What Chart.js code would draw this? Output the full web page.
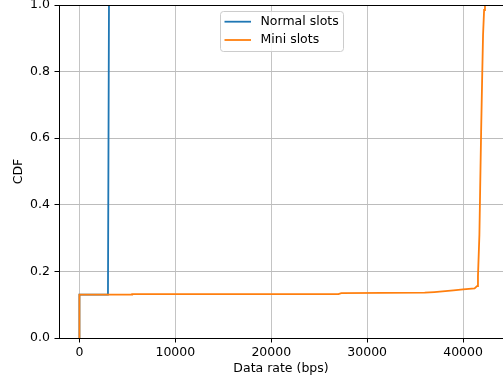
<!DOCTYPE html>
<html>
<head>
<meta charset="utf-8">
<script src="https://cdn.jsdelivr.net/npm/chart.js@4"></script>
<style>
html,body{margin:0;padding:0;background:#fff;overflow:hidden;}
canvas{display:block;}
</style>
</head>
<body>
<canvas id="c" width="503" height="383" style="width:503px;height:383px"></canvas>
<script>
// ---- data ----
const seriesNames = ["Normal slots", "Mini slots"];
const normalX = [0, 0, 2975, 3080];
const normalY = [0, 0.13, 0.13, 1.0];
const miniX = [0, 0, 5500, 5500, 27000, 27300, 36000, 37000, 39000, 40000, 41200, 41450, 41550, 41700, 41780, 41880, 41980, 42080, 42190, 42280];
const miniY = [0, 0.13, 0.13, 0.132, 0.132, 0.135, 0.136, 0.138, 0.143, 0.146, 0.149, 0.156, 0.185, 0.31, 0.45, 0.62, 0.77, 0.91, 0.985, 1.0];
const xTicks = [0, 10000, 20000, 30000, 40000];
const yTicks = [0, 0.2, 0.4, 0.6, 0.8, 1.0];
const colors = ["#1f77b4", "#ff7f0e"];

const toPts = (xs, ys) => xs.map((x, i) => ({x: x, y: ys[i]}));
const FONT = "'DejaVu Sans', sans-serif";
const FS = 12.5;

const frame = {
  id: 'frame',
  afterDraw(chart) {
    const ctx = chart.ctx, a = chart.chartArea;
    ctx.save();
    ctx.strokeStyle = '#000';
    ctx.lineWidth = 1;
    ctx.beginPath();
    ctx.moveTo(a.left, Math.round(a.top) + 0.5);
    ctx.lineTo(a.right, Math.round(a.top) + 0.5);
    ctx.stroke();
    // legend
    const bx = 220.5, by = 11.5, bw = 123, bh = 40, r = 3;
    ctx.fillStyle = 'rgba(255,255,255,0.85)';
    ctx.strokeStyle = '#cccccc';
    ctx.beginPath();
    ctx.moveTo(bx + r, by);
    ctx.lineTo(bx + bw - r, by);
    ctx.arcTo(bx + bw, by, bx + bw, by + r, r);
    ctx.lineTo(bx + bw, by + bh - r);
    ctx.arcTo(bx + bw, by + bh, bx + bw - r, by + bh, r);
    ctx.lineTo(bx + r, by + bh);
    ctx.arcTo(bx, by + bh, bx, by + bh - r, r);
    ctx.lineTo(bx, by + r);
    ctx.arcTo(bx, by, bx + r, by, r);
    ctx.closePath();
    ctx.fill();
    ctx.stroke();
    chart.data.datasets.forEach((ds, i) => {
      const yy = 21.7 + i * 18.3;
      ctx.strokeStyle = ds.borderColor;
      ctx.lineWidth = 1.8;
      ctx.beginPath();
      ctx.moveTo(224.5, yy);
      ctx.lineTo(251, yy);
      ctx.stroke();
      ctx.fillStyle = '#000';
      ctx.font = FS + 'px ' + FONT;
      ctx.textBaseline = 'middle';
      ctx.textAlign = 'left';
      ctx.fillText(ds.label, 260.5, yy);
    });
    ctx.restore();
  }
};

new Chart(document.getElementById('c'), {
  type: 'line',
  data: {
    datasets: [
      {label: seriesNames[0], data: toPts(normalX, normalY), borderColor: colors[0], backgroundColor: colors[0], order: 2},
      {label: seriesNames[1], data: toPts(miniX, miniY), borderColor: colors[1], backgroundColor: colors[1], order: 1}
    ]
  },
  options: {
    responsive: false,
    animation: false,
    devicePixelRatio: 1,
    layout: {padding: {left: 0, right: 0, top: 5, bottom: 0}},
    elements: {
      point: {radius: 0, hoverRadius: 0},
      line: {borderWidth: 1.8, tension: 0, fill: false, borderJoinStyle: 'miter'}
    },
    plugins: {legend: {display: false}, tooltip: {enabled: false}},
    scales: {
      x: {
        type: 'linear',
        min: -2130,
        max: 44160,
        afterBuildTicks: s => { s.ticks = xTicks.map(v => ({value: v})); },
        afterFit: s => { s.height = 45; s.paddingLeft = 0; s.paddingRight = 0; },
        ticks: {
          color: '#000', padding: 3, maxRotation: 0, autoSkip: false,
          font: {family: FONT, size: FS},
          callback: v => String(v)
        },
        grid: {color: '#c4c4c4', lineWidth: 1, tickLength: 4.5, tickColor: '#000', tickWidth: 1},
        border: {color: '#000', width: 1},
        title: {display: true, text: 'Data rate (bps)', color: '#000', font: {family: FONT, size: FS}, padding: {top: 0, bottom: 6.5}}
      },
      y: {
        type: 'linear',
        min: 0,
        max: 1,
        afterBuildTicks: s => { s.ticks = yTicks.map(v => ({value: v})); },
        afterFit: s => { s.width = 59; s.paddingTop = 0; s.paddingBottom = 0; },
        ticks: {
          color: '#000', padding: 4.5,
          font: {family: FONT, size: FS},
          callback: v => Number(v).toFixed(1)
        },
        grid: {color: '#bcbcbc', lineWidth: 1, tickLength: 4.5, tickColor: '#000', tickWidth: 1},
        border: {color: '#000', width: 1},
        title: {display: true, text: 'CDF', color: '#000', font: {family: FONT, size: FS}, padding: {top: 11.5, bottom: 0}}
      }
    }
  },
  plugins: [frame]
});
</script>
</body>
</html>
